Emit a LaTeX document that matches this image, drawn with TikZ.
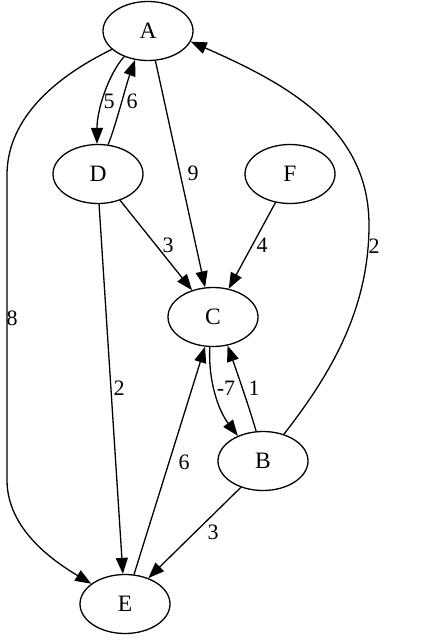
\documentclass[tikz,border=0pt]{standalone}
\usepackage{fontspec}
\setmainfont{Liberation Serif}
\usetikzlibrary{shapes.geometric,arrows.meta}
\begin{document}
\begin{tikzpicture}[x=1pt,y=-1pt,
  vtx/.style={draw,ellipse,line width=1.3pt,minimum width=90pt,minimum height=59pt,inner sep=0pt,font=\fontsize{23.5}{26}\selectfont},
  edge/.style={line width=1.3pt,-{Triangle[length=16pt,width=12pt]}},
  lbl/.style={font=\fontsize{22}{24}\selectfont,inner sep=0pt}]
\useasboundingbox (0,0) rectangle (431,642);
\node[vtx] (A) at (148,31) {A};
\node[vtx] (D) at (98,174) {D};
\node[vtx] (F) at (290,174) {F};
\node[vtx] (C) at (213,317) {C};
\node[vtx] (B) at (263,461) {B};
\node[vtx] (E) at (125,604) {E};
% A -> D
\draw[edge] (A.227) .. controls (108,75) and (97,110) .. (D.92);
\node[lbl] (l5) at (109,101) {5};
% D -> A
\draw[edge] (D.71) .. controls (116,125) and (126,85) .. (A.246);
\node[lbl] (l6a) at (132,101) {6};
% A -> C
\draw[edge] (A.284) -- (C.105);
\node[lbl] (l9) at (193,173) {9};
% A -> E
\draw[edge] (A.207) .. controls (45,82) and (7,125) .. (7,175) -- (7,480) .. controls (7,530) and (55,562) .. (E.149);
\node[lbl] (l8) at (12,318) {8};
% D -> C
\draw[edge] (D.310) -- (C.128);
\node[lbl] (l3a) at (168,245) {3};
% F -> C
\draw[edge] (F.243) -- (C.61);
\node[lbl] (l4) at (262,245) {4};
% D -> E
\draw[edge] (D.272) -- (E.94);
\node[lbl] (l2a) at (119,388) {2};
% C -> B
\draw[edge] (C.264) .. controls (208,380) and (218,410) .. (B.135);
\node[lbl] (l7) at (226,388) {-7};
% B -> C
\draw[edge] (B.103) .. controls (250,410) and (238,375) .. (C.297);
\node[lbl] (l1) at (254,388) {1};
% B -> A
\draw[edge] (B.52) .. controls (330,375) and (369,310) .. (369,225) .. controls (369,130) and (290,85) .. (A.346);
\node[lbl] (l2b) at (374,246) {2};
% E -> C
\draw[edge] (E.73) -- (C.255);
\node[lbl] (l6b) at (184,462) {6};
% B -> E
\draw[edge] (B.230) -- (E.48);
\node[lbl] (l3b) at (213,532) {3};
\end{tikzpicture}
\end{document}
